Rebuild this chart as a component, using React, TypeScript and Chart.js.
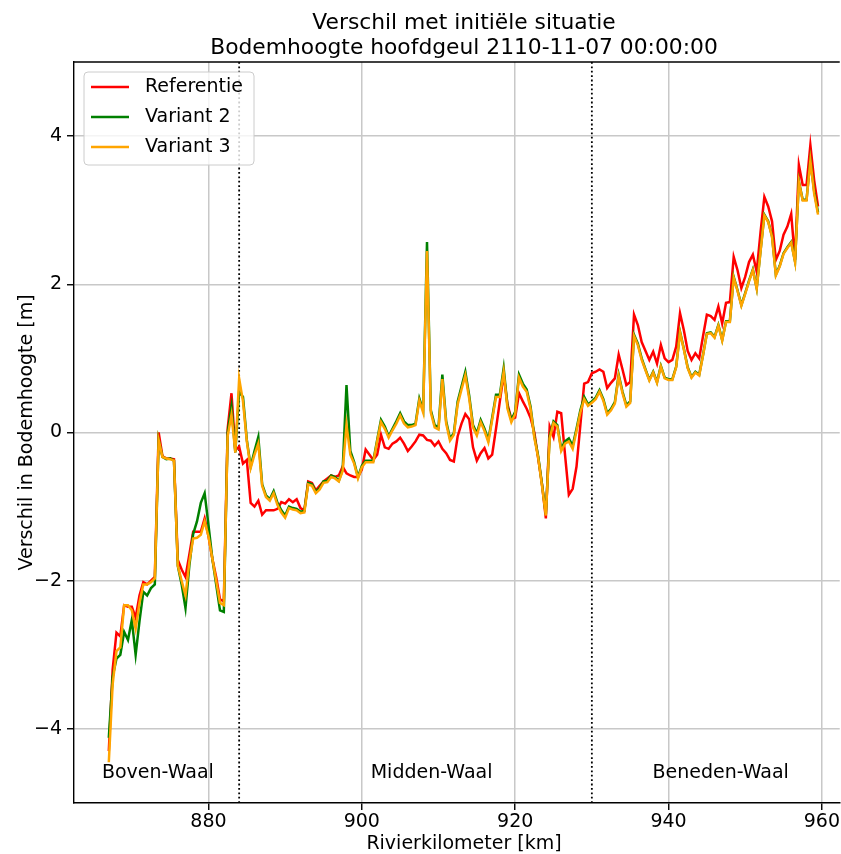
import React, { useEffect, useRef } from "react";
import { Chart, registerables } from "chart.js";

Chart.register(...registerables);

// ---- data ----
const km = [
  867.0, 867.5, 868.0, 868.5, 869.0, 869.5, 870.0, 870.5, 871.0, 871.5, 872.0, 872.5, 873.0, 873.5, 874.0, 874.5, 875.0, 875.5, 876.0, 876.5,
  877.0, 877.5, 878.0, 878.5, 879.0, 879.5, 880.0, 880.5, 881.0, 881.5, 882.0, 882.5, 883.0, 883.5, 884.0, 884.5, 885.0, 885.5, 886.0, 886.5,
  887.0, 887.5, 888.0, 888.5, 889.0, 889.5, 890.0, 890.5, 891.0, 891.5, 892.0, 892.5, 893.0, 893.5, 894.0, 894.5, 895.0, 895.5, 896.0, 896.5,
  897.0, 897.5, 898.0, 898.5, 899.0, 899.5, 900.0, 900.5, 901.0, 901.5, 902.0, 902.5, 903.0, 903.5, 904.0, 904.5, 905.0, 905.5, 906.0, 906.5,
  907.0, 907.5, 908.0, 908.5, 909.0, 909.5, 910.0, 910.5, 911.0, 911.5, 912.0, 912.5, 913.0, 913.5, 914.0, 914.5, 915.0, 915.5, 916.0, 916.5,
  917.0, 917.5, 918.0, 918.5, 919.0, 919.5, 920.0, 920.5, 921.0, 921.5, 922.0, 922.5, 923.0, 923.5, 924.0, 924.5, 925.0, 925.5, 926.0, 926.5,
  927.0, 927.5, 928.0, 928.5, 929.0, 929.5, 930.0, 930.5, 931.0, 931.5, 932.0, 932.5, 933.0, 933.5, 934.0, 934.5, 935.0, 935.5, 936.0, 936.5,
  937.0, 937.5, 938.0, 938.5, 939.0, 939.5, 940.0, 940.5, 941.0, 941.5, 942.0, 942.5, 943.0, 943.5, 944.0, 944.5, 945.0, 945.5, 946.0, 946.5,
  947.0, 947.5, 948.0, 948.5, 949.0, 949.5, 950.0, 950.5, 951.0, 951.5, 952.0, 952.5, 953.0, 953.5, 954.0, 954.5, 955.0, 955.5, 956.0, 956.5,
  957.0, 957.5, 958.0, 958.5, 959.0, 959.5,
];

const referentie = [
  -4.30, -3.20, -2.70, -2.75, -2.33, -2.35, -2.35, -2.50, -2.20, -2.02, -2.05, -2.00, -1.95, 0.00, -0.32, -0.35, -0.35, -0.36, -1.72, -1.85,
  -1.95, -1.65, -1.34, -1.34, -1.34, -1.16, -1.40, -1.70, -1.95, -2.25, -2.28, 0.05, 0.53, -0.24, -0.19, -0.42, -0.37, -0.95, -1.00, -0.92,
  -1.11, -1.05, -1.05, -1.05, -1.03, -0.94, -0.96, -0.90, -0.94, -0.90, -1.02, -1.05, -0.66, -0.68, -0.78, -0.72, -0.66, -0.62, -0.58, -0.60,
  -0.58, -0.46, -0.55, -0.58, -0.60, -0.60, -0.50, -0.23, -0.30, -0.37, -0.30, -0.03, -0.20, -0.22, -0.15, -0.12, -0.07, -0.15, -0.25, -0.19,
  -0.12, -0.03, -0.04, -0.10, -0.11, -0.18, -0.12, -0.22, -0.28, -0.37, -0.39, -0.05, 0.12, 0.25, 0.18, -0.20, -0.38, -0.28, -0.21, -0.35,
  -0.30, 0.05, 0.42, 0.78, 0.38, 0.18, 0.20, 0.53, 0.42, 0.32, 0.20, 0.00, -0.35, -0.70, -1.16, 0.08, -0.06, 0.28, 0.26, -0.30,
  -0.84, -0.76, -0.46, 0.10, 0.66, 0.68, 0.80, 0.82, 0.85, 0.82, 0.60, 0.67, 0.73, 1.05, 0.85, 0.64, 0.68, 1.59, 1.45, 1.22,
  1.10, 0.98, 1.09, 0.93, 1.18, 1.00, 0.95, 0.98, 1.16, 1.61, 1.38, 1.10, 0.98, 1.07, 1.00, 1.30, 1.59, 1.57, 1.52, 1.70,
  1.47, 1.75, 1.76, 2.37, 2.19, 1.95, 2.10, 2.30, 2.40, 2.17, 2.70, 3.18, 3.05, 2.85, 2.33, 2.45, 2.67, 2.78, 2.95, 2.33,
  3.61, 3.34, 3.34, 3.88, 3.40, 3.05,
];

const variant2 = [
  -4.12, -3.30, -3.05, -3.00, -2.69, -2.80, -2.53, -3.00, -2.55, -2.15, -2.20, -2.10, -2.05, -0.10, -0.33, -0.36, -0.35, -0.38, -1.80, -2.05,
  -2.37, -1.80, -1.37, -1.20, -0.95, -0.82, -1.25, -1.70, -2.05, -2.40, -2.42, 0.00, 0.35, -0.27, 0.55, 0.48, -0.10, -0.46, -0.25, -0.06,
  -0.70, -0.85, -0.90, -0.79, -0.95, -1.05, -1.12, -1.00, -1.02, -1.03, -1.07, -1.06, -0.68, -0.70, -0.80, -0.75, -0.66, -0.65, -0.58, -0.60,
  -0.65, -0.50, 0.64, -0.25, -0.40, -0.60, -0.45, -0.38, -0.38, -0.38, -0.10, 0.17, 0.08, -0.05, 0.05, 0.15, 0.26, 0.15, 0.10, 0.10,
  0.12, 0.46, 0.30, 2.57, 0.30, 0.10, 0.07, 0.78, 0.15, -0.08, -0.01, 0.42, 0.62, 0.82, 0.50, 0.10, -0.01, 0.17, 0.05, -0.10,
  0.20, 0.51, 0.51, 0.87, 0.35, 0.17, 0.28, 0.78, 0.66, 0.58, 0.35, -0.05, -0.32, -0.70, -1.10, -0.05, 0.15, 0.10, -0.22, -0.12,
  -0.08, -0.18, 0.05, 0.30, 0.48, 0.38, 0.42, 0.47, 0.57, 0.45, 0.26, 0.32, 0.41, 0.78, 0.55, 0.37, 0.42, 1.32, 1.20, 1.00,
  0.85, 0.71, 0.82, 0.68, 0.90, 0.74, 0.72, 0.72, 0.89, 1.36, 1.13, 0.88, 0.75, 0.82, 0.78, 1.05, 1.34, 1.35, 1.29, 1.45,
  1.25, 1.50, 1.50, 2.10, 1.92, 1.72, 1.88, 2.05, 2.20, 1.95, 2.45, 2.94, 2.85, 2.65, 2.13, 2.25, 2.42, 2.50, 2.57, 2.31,
  3.39, 3.14, 3.14, 3.68, 3.25, 2.97,
];

const variant3 = [
  -4.45, -3.40, -2.95, -2.90, -2.33, -2.33, -2.40, -2.65, -2.30, -2.05, -2.05, -2.02, -1.97, -0.10, -0.33, -0.35, -0.36, -0.38, -1.80, -2.00,
  -2.20, -1.75, -1.43, -1.42, -1.38, -1.20, -1.40, -1.70, -2.00, -2.30, -2.33, -0.05, 0.24, -0.27, 0.73, 0.42, -0.12, -0.48, -0.30, -0.15,
  -0.72, -0.87, -0.92, -0.82, -0.98, -1.08, -1.15, -1.02, -1.04, -1.05, -1.09, -1.08, -0.70, -0.72, -0.82, -0.77, -0.68, -0.67, -0.60, -0.62,
  -0.66, -0.52, 0.10, -0.30, -0.42, -0.62, -0.47, -0.40, -0.40, -0.40, -0.12, 0.14, 0.05, -0.07, 0.03, 0.12, 0.23, 0.12, 0.07, 0.08,
  0.10, 0.43, 0.27, 2.45, 0.27, 0.07, 0.04, 0.72, 0.12, -0.11, -0.03, 0.38, 0.58, 0.77, 0.46, 0.07, -0.04, 0.14, 0.02, -0.13,
  0.17, 0.48, 0.48, 0.82, 0.32, 0.14, 0.25, 0.74, 0.62, 0.55, 0.32, -0.07, -0.34, -0.72, -1.12, -0.08, 0.13, 0.08, -0.25, -0.15,
  -0.12, -0.22, 0.02, 0.27, 0.45, 0.36, 0.40, 0.45, 0.55, 0.43, 0.24, 0.30, 0.39, 0.76, 0.53, 0.35, 0.40, 1.30, 1.18, 0.98,
  0.84, 0.70, 0.81, 0.67, 0.89, 0.73, 0.71, 0.71, 0.88, 1.35, 1.12, 0.87, 0.74, 0.81, 0.77, 1.04, 1.33, 1.34, 1.28, 1.44,
  1.24, 1.49, 1.49, 2.09, 1.91, 1.71, 1.87, 2.04, 2.19, 1.94, 2.44, 2.93, 2.84, 2.64, 2.12, 2.24, 2.41, 2.49, 2.56, 2.30,
  3.38, 3.13, 3.13, 3.67, 3.22, 2.94,
];

const seriesNames = ["Referentie", "Variant 2", "Variant 3"];
const seriesColors = ["#ff0000", "#008000", "#ffa500"];
const xTickValues = [880, 900, 920, 940, 960];
const yTickValues = [-4, -2, 0, 2, 4];
const xRange = [862.46, 962.33];
const yRange = [-5, 5];
const boundaryKm = [884, 930];
const regionLabels = ["Boven-Waal", "Midden-Waal", "Beneden-Waal"];
const regionLabelKm = [873.4, 909.1, 946.8];
const regionLabelY = -4.6;
const titleLines = ["Verschil met initiële situatie", "Bodemhoogte hoofdgeul 2110-11-07 00:00:00"];
const xAxisTitle = "Rivierkilometer [km]";
const yAxisTitle = "Verschil in Bodemhoogte [m]";

const FONT = '"DejaVu Sans", Verdana, sans-serif';
const SMALL = 19;
const LARGE = 21.8;

export default function App() {
  const canvasRef = useRef<HTMLCanvasElement | null>(null);

  useEffect(() => {
    document.body.style.margin = "0";
    const canvas = canvasRef.current;
    if (!canvas) return;

    const overlay = {
      id: "overlay",
      beforeDatasetsDraw(chart: any) {
        const { ctx, chartArea, scales } = chart;
        ctx.save();
        ctx.strokeStyle = "#000";
        ctx.lineWidth = 1.8;
        ctx.setLineDash([1.8, 2.6]);
        boundaryKm.forEach((k) => {
          const x = scales.x.getPixelForValue(k);
          ctx.beginPath();
          ctx.moveTo(x, chartArea.top);
          ctx.lineTo(x, chartArea.bottom);
          ctx.stroke();
        });
        ctx.restore();
      },
      afterDraw(chart: any) {
        const { ctx, chartArea, scales } = chart;
        ctx.save();
        // top spine
        ctx.strokeStyle = "#000";
        ctx.lineWidth = 1.4;
        ctx.beginPath();
        ctx.moveTo(chartArea.left, chartArea.top);
        ctx.lineTo(chartArea.right, chartArea.top);
        ctx.stroke();

        ctx.fillStyle = "#000";
        // region labels
        ctx.font = `${SMALL}px ${FONT}`;
        ctx.textAlign = "center";
        ctx.textBaseline = "middle";
        regionLabels.forEach((t, i) => {
          ctx.fillText(t, scales.x.getPixelForValue(regionLabelKm[i]), scales.y.getPixelForValue(regionLabelY));
        });

        // titles
        const cx = 464;
        ctx.font = `${LARGE}px ${FONT}`;
        ctx.textBaseline = "alphabetic";
        ctx.fillText(titleLines[0], cx, 29);
        ctx.fillText(titleLines[1], cx, 54);

        // axis titles
        ctx.font = `${SMALL}px ${FONT}`;
        ctx.fillText(xAxisTitle, cx, 849);
        ctx.save();
        ctx.translate(27, (chartArea.top + chartArea.bottom) / 2);
        ctx.rotate(-Math.PI / 2);
        ctx.textBaseline = "middle";
        ctx.fillText(yAxisTitle, 0, 0);
        ctx.restore();

        // legend
        const lx = 84, ly = 72, lw = 170, lh = 93, r = 4;
        ctx.beginPath();
        ctx.moveTo(lx + r, ly);
        ctx.lineTo(lx + lw - r, ly);
        ctx.arcTo(lx + lw, ly, lx + lw, ly + r, r);
        ctx.lineTo(lx + lw, ly + lh - r);
        ctx.arcTo(lx + lw, ly + lh, lx + lw - r, ly + lh, r);
        ctx.lineTo(lx + r, ly + lh);
        ctx.arcTo(lx, ly + lh, lx, ly + lh - r, r);
        ctx.lineTo(lx, ly + r);
        ctx.arcTo(lx, ly, lx + r, ly, r);
        ctx.closePath();
        ctx.fillStyle = "rgba(255,255,255,0.8)";
        ctx.fill();
        ctx.strokeStyle = "#cccccc";
        ctx.lineWidth = 1;
        ctx.stroke();
        chart.data.datasets.forEach((ds: any, i: number) => {
          const y = ly + 15 + i * 30;
          ctx.strokeStyle = ds.borderColor;
          ctx.lineWidth = 2.5;
          ctx.beginPath();
          ctx.moveTo(91, y);
          ctx.lineTo(129, y);
          ctx.stroke();
          ctx.fillStyle = "#000";
          ctx.textAlign = "left";
          ctx.textBaseline = "middle";
          ctx.font = `${SMALL}px ${FONT}`;
          ctx.fillText(ds.label, 145, y);
        });
        ctx.restore();
      },
    };

    const series = [referentie, variant2, variant3];
    const chart = new Chart(canvas, {
      type: "line",
      data: {
        datasets: series.map((vals, i) => ({
          label: seriesNames[i],
          data: km.map((x, j) => ({ x, y: vals[j] })),
          borderColor: seriesColors[i],
          backgroundColor: seriesColors[i],
          borderWidth: 2.5,
          pointRadius: 0,
          tension: 0,
          fill: false,
          order: series.length - i,
        })),
      },
      options: {
        responsive: false,
        animation: false,
        devicePixelRatio: 1,
        layout: { padding: { top: 62, left: 0, right: 0, bottom: 0 } },
        plugins: {
          legend: { display: false },
          title: { display: false },
          tooltip: { enabled: false },
        },
        scales: {
          x: {
            type: "linear",
            min: xRange[0],
            max: xRange[1],
            afterBuildTicks: (scale: any) => {
              scale.ticks = xTickValues.map((v) => ({ value: v }));
            },
            afterFit: (scale: any) => {
              scale.height = 51;
            },
            grid: {
              color: "#c8c8c8",
              lineWidth: 1.5,
              tickLength: 7,
              tickColor: "#000",
              tickWidth: 1.4,
            },
            border: { display: true, color: "#000", width: 1.4 },
            ticks: {
              font: { family: FONT, size: SMALL },
              color: "#000",
              padding: 1,
              maxRotation: 0,
              callback: (v: any) => String(v),
            },
          },
          y: {
            type: "linear",
            min: yRange[0],
            max: yRange[1],
            afterBuildTicks: (scale: any) => {
              scale.ticks = yTickValues.map((v) => ({ value: v }));
            },
            afterFit: (scale: any) => {
              scale.width = 74;
            },
            grid: {
              color: "#c8c8c8",
              lineWidth: 1.5,
              tickLength: 7,
              tickColor: "#000",
              tickWidth: 1.4,
            },
            border: { display: true, color: "#000", width: 1.4 },
            ticks: {
              font: { family: FONT, size: SMALL },
              color: "#000",
              padding: 5,
              callback: (v: any) => (Number(v) < 0 ? "\u2212" + Math.abs(Number(v)) : String(v)),
            },
          },
        },
      },
      plugins: [overlay],
    } as any);

    return () => chart.destroy();
  }, []);

  return (
    <div style={{ width: 841, height: 854, background: "#fff" }}>
      <canvas ref={canvasRef} width={841} height={854} style={{ display: "block" }} />
    </div>
  );
}
